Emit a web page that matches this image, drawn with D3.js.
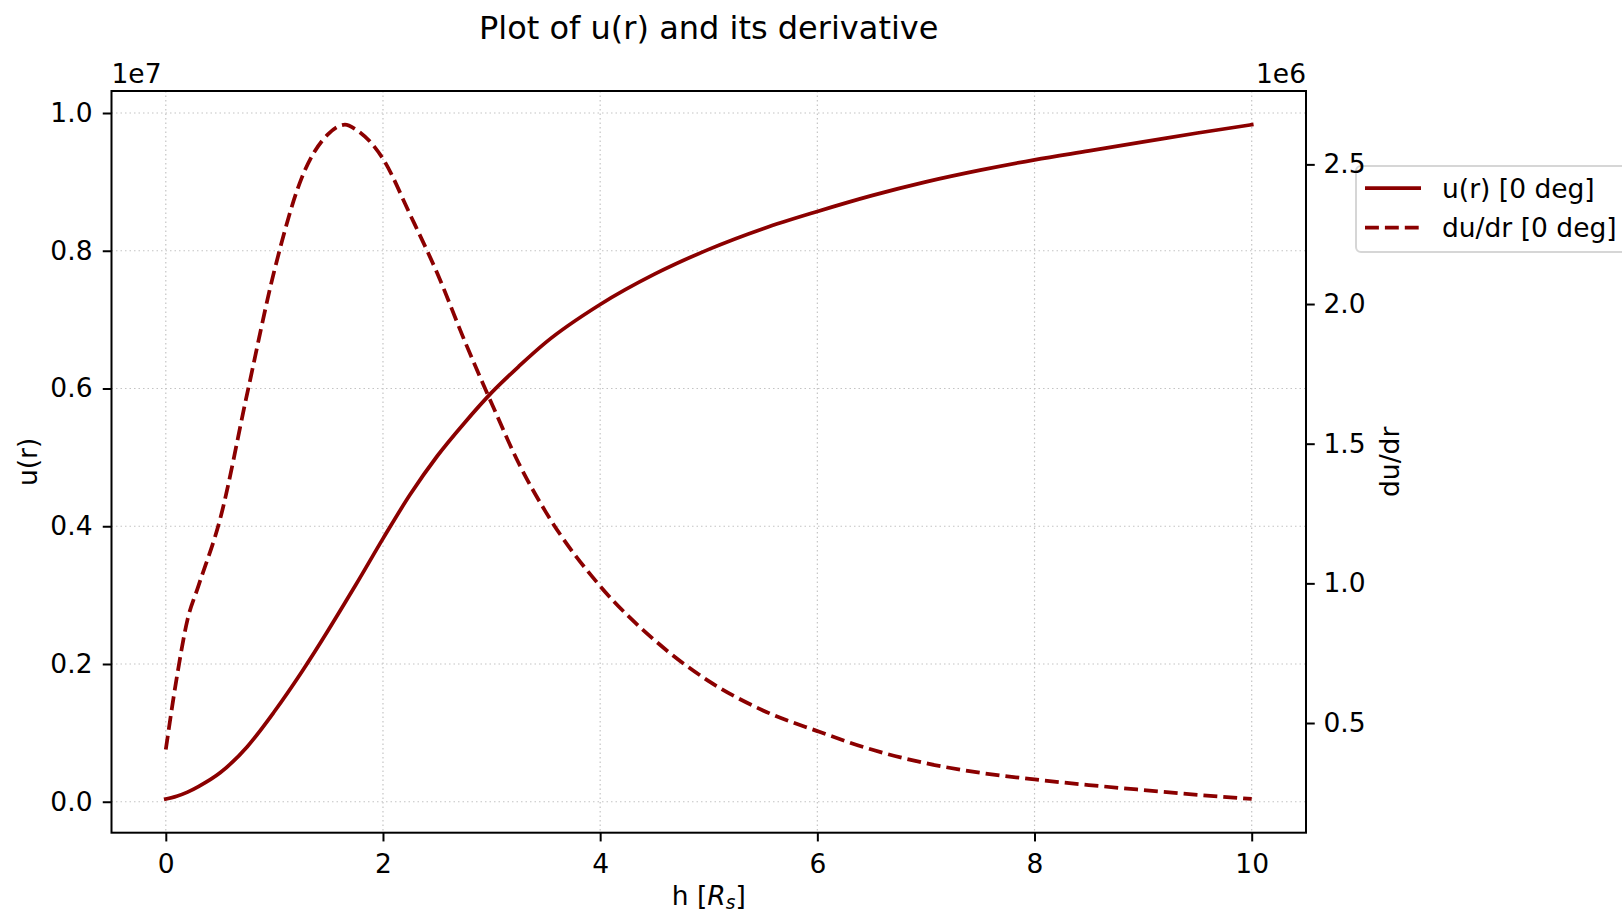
<!DOCTYPE html>
<html>
<head>
<meta charset="utf-8">
<script src="https://cdn.jsdelivr.net/npm/d3@7"></script>
<style>
  html, body { margin: 0; padding: 0; background: #ffffff; }
  svg { display: block; font-family: "DejaVu Sans", sans-serif; }
</style>
</head>
<body>
<svg id="chart" width="1622" height="916"></svg>
<script>
// Radial distance h in units of R_s
const hValues = [0, 0.1, 0.2, 0.3, 0.5, 0.75, 1.0, 1.25, 1.5, 1.65, 1.75, 2.0, 2.25, 2.5,
                 2.75, 3.0, 3.25, 3.5, 4.0, 4.5, 5.0, 5.5, 6.0, 6.5, 7.0, 7.5, 8.0, 8.5,
                 9.0, 9.5, 10.0];
// u(r), in units of 1e7
const uValues = [0.004, 0.008, 0.014, 0.022, 0.042, 0.080, 0.131, 0.188, 0.250, 0.289, 0.315,
                 0.382, 0.446, 0.502, 0.550, 0.594, 0.632, 0.667, 0.722, 0.766, 0.802, 0.832,
                 0.857, 0.880, 0.900, 0.917, 0.932, 0.945, 0.958, 0.971, 0.983];
// du/dr, in units of 1e6
const duValues = [0.405, 0.660, 0.870, 0.990, 1.230, 1.680, 2.120, 2.450, 2.610, 2.642, 2.625,
                  2.520, 2.320, 2.110, 1.870, 1.645, 1.430, 1.255, 0.990, 0.797, 0.650, 0.545,
                  0.471, 0.405, 0.356, 0.322, 0.298, 0.278, 0.260, 0.243, 0.228];

const xTicks = [0, 2, 4, 6, 8, 10];
const uTicks = [0.0, 0.2, 0.4, 0.6, 0.8, 1.0];
const duTicks = [0.5, 1.0, 1.5, 2.0, 2.5];

const titleText = "Plot of u(r) and its derivative";
const uLabel = "u(r)";
const duLabel = "du/dr";
const uOffset = "1e7";
const duOffset = "1e6";
const legendLabels = ["u(r) [0 deg]", "du/dr [0 deg]"];

const lineColor = "#8b0000";
const fontSize = 26.5;
const titleSize = 32;

// Axes box
const box = { left: 111.5, right: 1306, top: 91, bottom: 832.7 };

// Autoscale with a 5% margin on each side
function padded(values) {
  const [lo, hi] = d3.extent(values);
  const m = (hi - lo) * 0.05;
  return [lo - m, hi + m];
}

const x = d3.scaleLinear().domain(padded(hValues)).range([box.left, box.right]);
const yU = d3.scaleLinear().domain(padded(uValues)).range([box.bottom, box.top]);
const yD = d3.scaleLinear().domain(padded(duValues)).range([box.bottom, box.top]);

const svg = d3.select("#chart");

// Dotted grid
const grid = svg.append("g").attr("class", "grid")
  .attr("stroke", "#c4c4c4").attr("stroke-width", 1.2).attr("stroke-dasharray", "1.5,3");
grid.selectAll("line.gx").data(xTicks).join("line").attr("class", "gx")
  .attr("x1", d => x(d)).attr("x2", d => x(d))
  .attr("y1", box.top).attr("y2", box.bottom);
grid.selectAll("line.gy").data(uTicks).join("line").attr("class", "gy")
  .attr("x1", box.left).attr("x2", box.right)
  .attr("y1", d => yU(d)).attr("y2", d => yU(d));

// Curves
const pts = hValues.map((h, i) => ({ h, u: uValues[i], d: duValues[i] }));

svg.append("clipPath").attr("id", "plotclip").append("rect")
  .attr("x", box.left).attr("y", box.top)
  .attr("width", box.right - box.left).attr("height", box.bottom - box.top);

const plot = svg.append("g").attr("clip-path", "url(#plotclip)");

plot.append("path").datum(pts)
  .attr("fill", "none").attr("stroke", lineColor).attr("stroke-width", 3.75)
  .attr("stroke-linejoin", "round").attr("stroke-linecap", "square")
  .attr("d", d3.line().x(p => x(p.h)).y(p => yU(p.u)).curve(d3.curveMonotoneX));

plot.append("path").datum(pts)
  .attr("fill", "none").attr("stroke", lineColor).attr("stroke-width", 3.75)
  .attr("stroke-dasharray", "13.9,6").attr("stroke-linejoin", "round")
  .attr("d", d3.line().x(p => x(p.h)).y(p => yD(p.d)).curve(d3.curveMonotoneX));

// Legend (placed outside the axes, on the right)
const legend = svg.append("g").attr("transform", "translate(1356,166)");
legend.append("rect").attr("x", 0).attr("y", 0).attr("width", 300).attr("height", 86)
  .attr("rx", 5).attr("fill", "#fff").attr("fill-opacity", 0.8)
  .attr("stroke", "#d6d6d6").attr("stroke-width", 2);
const dashes = [null, "13.9,6"];
legendLabels.forEach((lab, i) => {
  const cy = 22 + i * 39.5;
  legend.append("line").attr("x1", 9).attr("x2", 65).attr("y1", cy).attr("y2", cy)
    .attr("stroke", lineColor).attr("stroke-width", 3.75)
    .attr("stroke-dasharray", dashes[i]);
  legend.append("text").attr("x", 86).attr("y", cy + 9.5)
    .attr("font-size", fontSize).text(lab);
});

// Axes
const tickLen = 8.75, tickPad = 8.75;

function styleAxis(g) {
  g.selectAll("path.domain").remove();
  g.selectAll(".tick line").attr("stroke", "#000").attr("stroke-width", 2);
  g.selectAll(".tick text").attr("fill", "#000")
    .style("font-size", fontSize + "px").style("font-family", "DejaVu Sans, sans-serif");
}

svg.append("g").attr("transform", `translate(0,${box.bottom})`)
  .call(d3.axisBottom(x).tickValues(xTicks).tickFormat(d3.format("d"))
    .tickSizeInner(tickLen).tickSizeOuter(0).tickPadding(tickPad))
  .call(styleAxis)
  .call(g => g.selectAll(".tick text").attr("y", 40.5).attr("dy", 0));

svg.append("g").attr("transform", `translate(${box.left},0)`)
  .call(d3.axisLeft(yU).tickValues(uTicks).tickFormat(d3.format(".1f"))
    .tickSizeInner(tickLen).tickSizeOuter(0).tickPadding(tickPad + 1.5))
  .call(styleAxis);

svg.append("g").attr("transform", `translate(${box.right},0)`)
  .call(d3.axisRight(yD).tickValues(duTicks).tickFormat(d3.format(".1f"))
    .tickSizeInner(tickLen).tickSizeOuter(0).tickPadding(tickPad))
  .call(styleAxis);

// Frame
svg.append("rect")
  .attr("x", box.left).attr("y", box.top)
  .attr("width", box.right - box.left).attr("height", box.bottom - box.top)
  .attr("fill", "none").attr("stroke", "#000").attr("stroke-width", 2);

// Offset labels
svg.append("text").attr("x", box.left).attr("y", 83)
  .attr("font-size", fontSize).text(uOffset);
svg.append("text").attr("x", box.right).attr("y", 83).attr("text-anchor", "end")
  .attr("font-size", fontSize).text(duOffset);

// Title
svg.append("text").attr("x", (box.left + box.right) / 2).attr("y", 39)
  .attr("text-anchor", "middle").attr("font-size", titleSize).text(titleText);

// Axis labels
const xl = svg.append("text").attr("x", (box.left + box.right) / 2).attr("y", 905)
  .attr("text-anchor", "middle").attr("font-size", fontSize);
xl.append("tspan").text("h [");
xl.append("tspan").attr("font-style", "italic").text("R");
xl.append("tspan").attr("font-style", "italic").attr("font-size", fontSize * 0.7)
  .attr("dy", 4).text("s");
xl.append("tspan").attr("dy", -4).text("]");

svg.append("text")
  .attr("transform", `translate(37,${(box.top + box.bottom) / 2}) rotate(-90)`)
  .attr("text-anchor", "middle").attr("font-size", fontSize).text(uLabel);

svg.append("text")
  .attr("transform", `translate(1399,${(box.top + box.bottom) / 2}) rotate(-90)`)
  .attr("text-anchor", "middle").attr("font-size", fontSize).text(duLabel);
</script>
</body>
</html>
